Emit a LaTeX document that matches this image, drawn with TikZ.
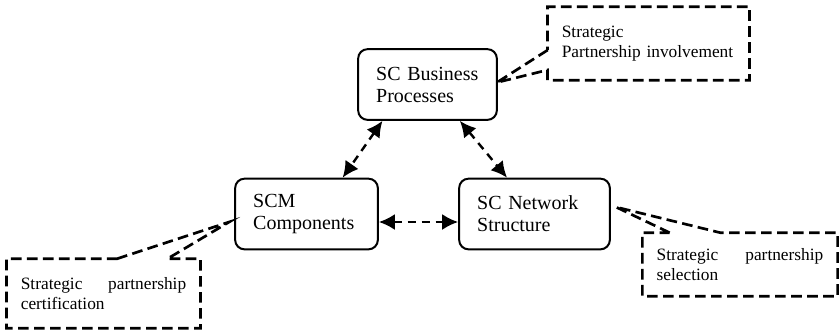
\documentclass[tikz,border=0pt]{standalone}
\usepackage{fontspec}
\setmainfont{Liberation Serif}
\usetikzlibrary{positioning,calc,arrows.meta}

\begin{document}
\begin{tikzpicture}[x=0.75pt,y=-0.75pt,on grid,
  proc/.style={draw,line width=1.5pt,rounded corners=7pt,align=left,inner xsep=13.5pt,
    minimum height=53pt,font=\fontsize{15}{16.5}\selectfont},
  note/.style={align=left,inner xsep=10.5pt,font=\fontsize{13}{15}\selectfont},
  notedge/.style={line width=2pt,dash pattern=on 8pt off 4pt},
  link/.style={line width=1.8pt,dash pattern=on 6pt off 4.5pt,
    {Latex[length=12pt,width=12pt]}-{Latex[length=12pt,width=12pt]}}]
 \useasboundingbox (0,0) rectangle (839,333);
 \node[proc,text width=77pt] (bp) at (427.5,84.5) {SC Business\\Processes};
 \node[proc,text width=80pt] (cm) at (306.5,214) {SCM\\Components};
 \node[proc,text width=86pt] (ns) [right=171pt of cm] {SC Network\\Structure};
 \node[note,text width=130pt,minimum height=54.75pt] (inv) at (648.5,43.5) {Strategic\\Partnership involvement};
 \node[note,text width=124pt,minimum height=51.75pt] (cert) at (103.5,293.5) {Strategic\hfill partnership\\certification};
 \node[note,text width=125pt,minimum height=47.25pt] (sel) at (740,264.5) {Strategic\hfill partnership\\selection};
 \draw[link] ($(bp.south west)!0.18!(bp.south east)$) -- ($(cm.north west)!0.75!(cm.north east)$);
 \draw[link] ($(bp.south west)!0.73!(bp.south east)$) -- ($(ns.north west)!0.32!(ns.north east)$);
 \draw[link] ($(cm.east)+(0,8)$) -- ($(ns.west)+(0,8)$);
 \draw[notedge] ($(inv.north west)!0.59!(inv.south west)$) -- ($(bp.east)+(-1,-2)$)
   -- ($(inv.north west)!0.86!(inv.south west)$) -- (inv.south west) -- (inv.south east)
   -- (inv.north east) -- (inv.north west) -- cycle;
 \draw[notedge] ($(cert.north west)!0.57!(cert.north east)$) -- ($(cm.west)+(-5,8)$)
   -- ($(cert.north west)!0.83!(cert.north east)$) -- (cert.north east) -- (cert.south east)
   -- (cert.south west) -- (cert.north west) -- cycle;
 \draw[notedge] ($(sel.north west)!0.14!(sel.north east)$) -- ($(ns.east)+(5,-7)$)
   -- ($(sel.north west)!0.40!(sel.north east)$) -- (sel.north east) -- (sel.south east)
   -- (sel.south west) -- (sel.north west) -- cycle;
\end{tikzpicture}
\end{document}
